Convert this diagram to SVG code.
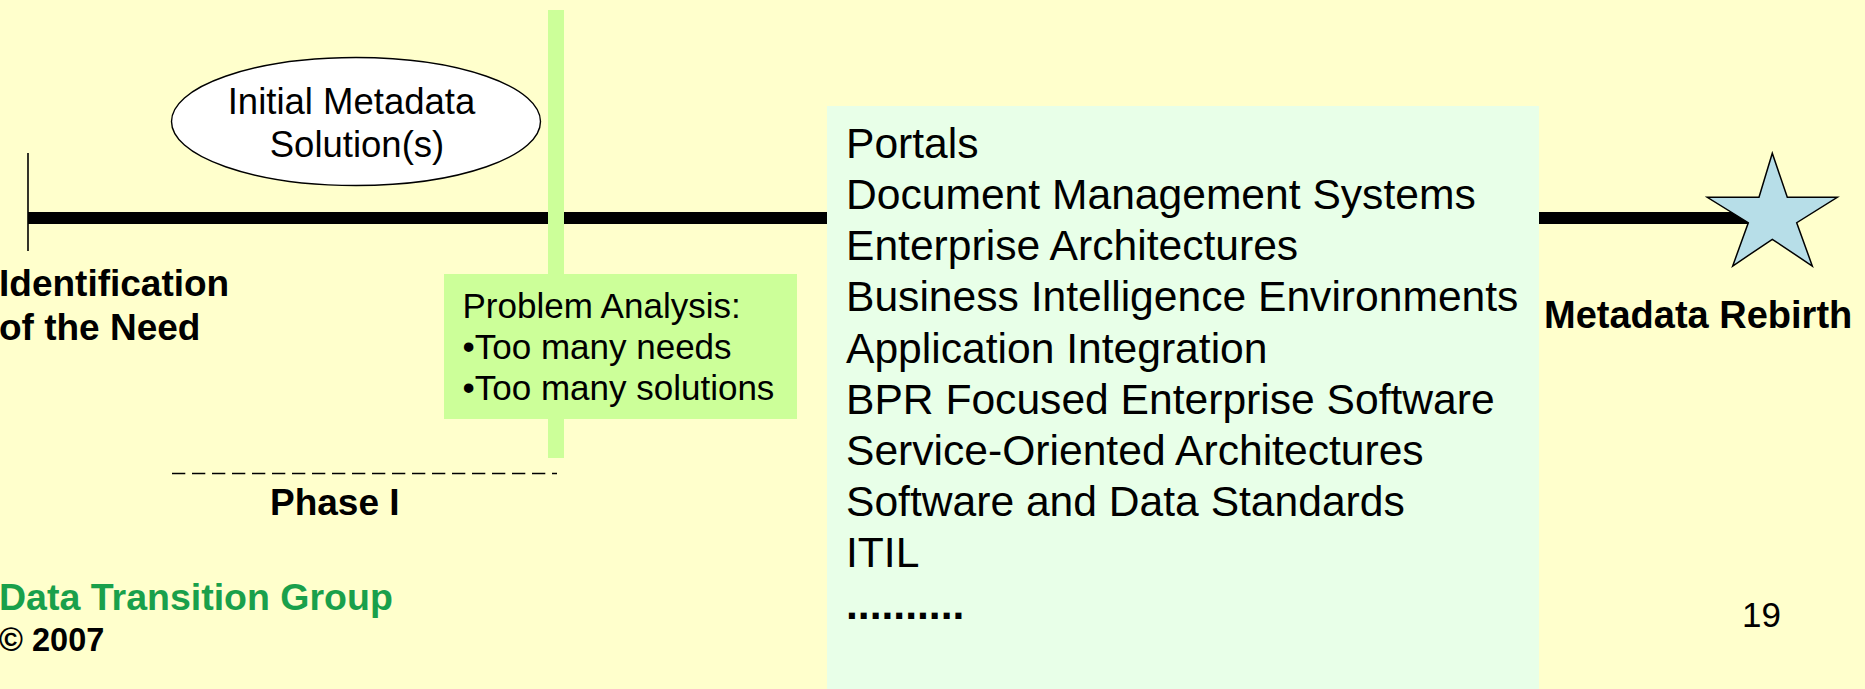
<svg xmlns="http://www.w3.org/2000/svg" width="1865" height="689" viewBox="0 0 1865 689">
<style>
.t{font-family:"Liberation Sans",Arial,sans-serif;fill:#000}
.b{font-weight:bold}
.green{fill:#CCFF99}
.list{font-size:42.6px}
</style>
<rect x="0" y="0" width="1865" height="689" fill="#FFFFCC"/>
<g id="connectors">
<line x1="28" y1="218" x2="1752" y2="218" stroke="#000" stroke-width="12"/>
<line x1="28" y1="153" x2="28" y2="251" stroke="#000" stroke-width="1.6"/>
<line x1="172" y1="473.5" x2="557" y2="473.5" stroke="#000" stroke-width="1.6" stroke-dasharray="13.3 6.7"/>
</g>
<g id="ellipse-initial">
<ellipse cx="356" cy="121.5" rx="184.5" ry="64" fill="#FFFFFF" stroke="#000" stroke-width="1.4"/>
<text class="t" x="351.5" y="114" font-size="36.5" text-anchor="middle">Initial Metadata</text>
<text class="t" x="357" y="157" font-size="36.5" text-anchor="middle">Solution(s)</text>
</g>
<g id="phase-divider">
<rect class="green" x="548" y="10" width="16" height="448"/>
</g>
<g id="problem-analysis">
<rect class="green" x="444" y="274" width="353" height="145"/>
<text class="t" x="462.5" y="318.3" font-size="35">Problem Analysis:</text>
<text class="t" x="462.5" y="359.3" font-size="35">•Too many needs</text>
<text class="t" x="462.5" y="400.3" font-size="35">•Too many solutions</text>
</g>
<g id="technologies">
<rect x="827" y="106" width="712" height="590" fill="#E8FFE8"/>
<text class="t list" x="846" y="157.7">Portals</text>
<text class="t list" x="846" y="208.9">Document Management Systems</text>
<text class="t list" x="846" y="260.1">Enterprise Architectures</text>
<text class="t list" x="846" y="311.3">Business Intelligence Environments</text>
<text class="t list" x="846" y="362.5">Application Integration</text>
<text class="t list" x="846" y="413.7">BPR Focused Enterprise Software</text>
<text class="t list" x="846" y="464.9">Service-Oriented Architectures</text>
<text class="t list" x="846" y="516.1">Software and Data Standards</text>
<text class="t list" x="846" y="567.3">ITIL</text>
<text class="t b list" x="846" y="618.5">..........</text>
</g>
<g id="rebirth">
<polygon points="1772.3,153.3 1787.3,197.3 1837.3,197.3 1796.7,222.7 1812.3,266 1772.3,239.3 1732.7,266 1748.3,222.7 1707.3,197.3 1759,197.3" fill="#B7DEE8" stroke="#000" stroke-width="1.5" stroke-linejoin="miter"/>
<text class="t b" x="1544" y="327.7" font-size="38">Metadata Rebirth</text>
</g>
<g id="identification">
<text class="t b" x="-1" y="296" font-size="37">Identification</text>
<text class="t b" x="-1" y="340" font-size="37">of the Need</text>
</g>
<g id="phase-label">
<text class="t b" x="270" y="515" font-size="37">Phase I</text>
</g>
<g id="footer">
<text class="t b" x="-1" y="610" font-size="37.5" style="fill:#19A04B">Data Transition Group</text>
<text class="t b" x="-1" y="651" font-size="32.5">© 2007</text>
<text class="t" x="1742" y="626.7" font-size="35">19</text>
</g>
</svg>
